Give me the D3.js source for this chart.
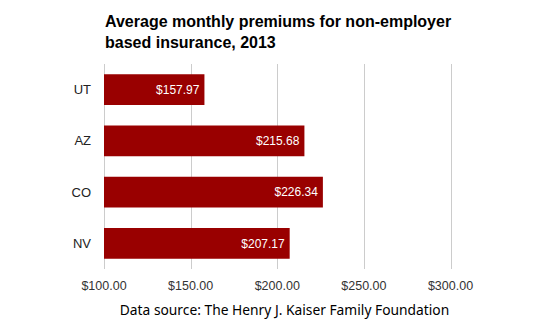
<!DOCTYPE html>
<html>
<head>
<meta charset="utf-8">
<script src="https://cdn.jsdelivr.net/npm/d3@7"></script>
<style>
  body { margin: 0; background: #fff; }
  text { font-family: "Liberation Sans", Arial, sans-serif; }
</style>
</head>
<body>
<div id="chart"></div>
<script>
var states = ["UT", "AZ", "CO", "NV"];
var premiums = [157.97, 215.68, 226.34, 207.17];
var ticks = [100, 150, 200, 250, 300];
var titleLines = ["Average monthly premiums for non-employer", "based insurance, 2013"];
var source = "Data source: The Henry J. Kaiser Family Foundation";

var fullWidth = 555;
var fullHeight = 334;
var margin = {top: 64, right: 104, bottom: 65, left: 104};
var width = fullWidth - margin.left - margin.right;
var height = fullHeight - margin.top - margin.bottom;

var svg = d3.select("#chart")
  .append("svg")
  .attr("width", fullWidth)
  .attr("height", fullHeight);

var g = svg.append("g")
  .attr("transform", "translate(" + margin.left + "," + margin.top + ")");

var xScale = d3.scaleLinear().domain([100, 300]).range([0, 346.5]);
var yScale = d3.scaleBand().domain(states).range([0, height])
  .paddingInner(0.4).paddingOuter(0.2);

var fmt = function(v) { return "$" + d3.format(".2f")(v); };

// gridlines
g.selectAll(".grid")
  .data(ticks)
  .enter().append("line")
  .attr("x1", function(d) { return Math.round(xScale(d)) + 0.5; })
  .attr("x2", function(d) { return Math.round(xScale(d)) + 0.5; })
  .attr("y1", 0)
  .attr("y2", height)
  .attr("stroke", "#cccccc");

// tick labels
g.selectAll(".tick-label")
  .data(ticks)
  .enter().append("text")
  .attr("x", function(d) { return xScale(d); })
  .attr("y", height + 21)
  .attr("text-anchor", "middle")
  .attr("font-size", 12.5)
  .attr("fill", "#333")
  .text(fmt);

// bars
var data = states.map(function(s, i) { return {state: s, value: premiums[i]}; });

g.selectAll(".bar")
  .data(data)
  .enter().append("rect")
  .attr("x", 0)
  .attr("y", function(d) { return yScale(d.state); })
  .attr("width", function(d) { return xScale(d.value); })
  .attr("height", yScale.bandwidth())
  .attr("fill", "#990000");

g.selectAll(".val")
  .data(data)
  .enter().append("text")
  .attr("x", function(d) { return xScale(d.value) - 5; })
  .attr("y", function(d) { return yScale(d.state) + yScale.bandwidth() / 2; })
  .attr("dy", "0.35em")
  .attr("text-anchor", "end")
  .attr("font-size", 12)
  .attr("fill", "#fff")
  .text(function(d) { return fmt(d.value); });

// category labels
g.selectAll(".cat")
  .data(states)
  .enter().append("text")
  .attr("x", -13)
  .attr("y", function(d) { return yScale(d) + yScale.bandwidth() / 2; })
  .attr("dy", "0.35em")
  .attr("text-anchor", "end")
  .attr("font-size", 13)
  .attr("fill", "#222")
  .text(function(d) { return d; });

// title
svg.append("text")
  .attr("x", 105)
  .attr("y", 27)
  .attr("font-size", 16)
  .attr("font-weight", "bold")
  .attr("fill", "#000")
  .selectAll("tspan")
  .data(titleLines)
  .enter().append("tspan")
  .attr("x", 105)
  .attr("dy", function(d, i) { return i ? 21 : 0; })
  .text(function(d) { return d; });

// source
svg.append("text")
  .attr("x", 284.5)
  .attr("y", 315)
  .attr("text-anchor", "middle")
  .attr("font-size", 13.8)
  .style("font-family", "'Noto Sans', 'Open Sans', sans-serif")
  .attr("fill", "#000")
  .text(source);
</script>
</body>
</html>
